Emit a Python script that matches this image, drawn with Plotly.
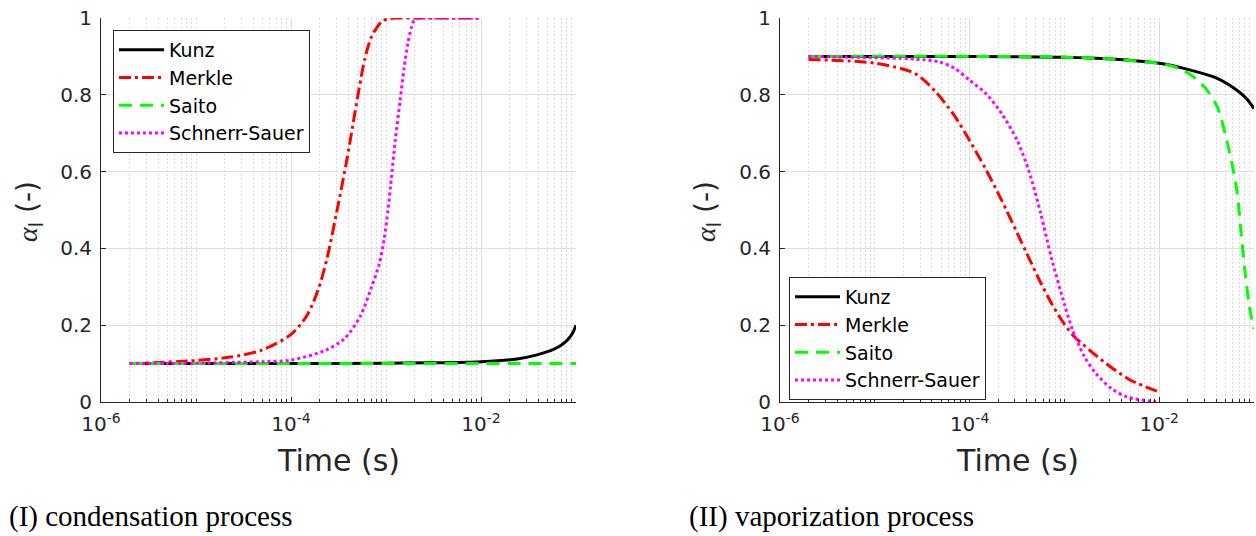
import plotly.graph_objects as go

W, H = 1256, 536

# ---------------- (I) condensation process ----------------
t_kunz_c = [2e-6, 1e-4, 1e-3, 3e-3, 1e-2, 2.4e-2, 3.8e-2, 5e-2, 6.6e-2, 8e-2, 8.7e-2, 9.4e-2, 1e-1]
a_kunz_c = [0.100, 0.100, 0.101, 0.102, 0.105, 0.112, 0.122, 0.131, 0.144, 0.160, 0.170, 0.184, 0.200]

t_merkle_c = [2e-6, 1e-5, 2.3e-5, 4.8e-5, 1e-4, 1.46e-4, 1.93e-4, 2.4e-4, 3e-4, 3.87e-4,
              4.5e-4, 5.2e-4, 6e-4, 7e-4, 8e-4, 9e-4, 1.05e-3, 1.3e-3, 2e-3, 1e-2]
a_merkle_c = [0.100, 0.108, 0.117, 0.134, 0.176, 0.224, 0.292, 0.375, 0.490, 0.630,
              0.725, 0.815, 0.895, 0.950, 0.975, 0.990, 0.998, 1.000, 1.000, 1.000]

t_saito_c = [2e-6, 1e-4, 1e-2, 1e-1]
a_saito_c = [0.100, 0.100, 0.100, 0.100]

t_ss_c = [2e-6, 1e-5, 5e-5, 1e-4, 2.32e-4, 3.69e-4, 5.35e-4, 7.06e-4, 8.5e-4, 9.5e-4,
          1.05e-3, 1.12e-3, 1.25e-3, 1.41e-3, 1.55e-3, 1.7e-3, 1.85e-3, 2e-3, 2.3e-3, 3e-3, 1e-2]
a_ss_c = [0.100, 0.101, 0.105, 0.109, 0.135, 0.166, 0.223, 0.300, 0.360, 0.420,
          0.500, 0.565, 0.680, 0.786, 0.870, 0.934, 0.975, 0.996, 1.000, 1.000, 1.000]

# ---------------- (II) vaporization process ----------------
t_kunz_v = [2e-6, 1e-4, 1e-3, 3.13e-3, 1e-2, 2.09e-2, 4.09e-2, 6.6e-2, 8.5e-2, 1e-1]
a_kunz_v = [0.900, 0.900, 0.898, 0.893, 0.882, 0.865, 0.843, 0.812, 0.788, 0.764]

t_saito_v = [2e-6, 1e-4, 1e-3, 3.13e-3, 1e-2, 1.44e-2, 2.09e-2, 3.08e-2, 4.09e-2, 5.46e-2,
             6.6e-2, 7.25e-2, 8.0e-2, 8.8e-2, 9.4e-2, 1e-1]
a_saito_v = [0.900, 0.900, 0.898, 0.893, 0.882, 0.873, 0.854, 0.817, 0.769, 0.655,
             0.550, 0.450, 0.345, 0.260, 0.220, 0.190]

t_merkle_v = [2e-6, 1.03e-5, 2.67e-5, 4.3e-5, 6.94e-5, 1e-4, 1.49e-4, 2.18e-4, 3.18e-4, 4.04e-4,
              5.64e-4, 7.2e-4, 9.08e-4, 1.21e-3, 1.95e-3, 3.13e-3, 5.05e-3, 1e-2]
a_merkle_v = [0.892, 0.882, 0.855, 0.810, 0.745, 0.681, 0.605, 0.525, 0.440, 0.385,
              0.310, 0.260, 0.218, 0.176, 0.130, 0.090, 0.056, 0.026]

t_ss_v = [2e-6, 2.67e-5, 4.74e-5, 6.94e-5, 1e-4, 1.49e-4, 2.18e-4, 3.18e-4, 4.24e-4, 5.64e-4,
          7.3e-4, 1e-3, 1.21e-3, 1.61e-3, 2.14e-3, 3.13e-3, 4.59e-3, 8.13e-3, 1e-2]
a_ss_v = [0.900, 0.893, 0.886, 0.869, 0.838, 0.803, 0.751, 0.681, 0.600, 0.490,
          0.375, 0.255, 0.190, 0.120, 0.075, 0.035, 0.013, 0.002, 0.000]

model_names = ["Kunz", "Merkle", "Saito", "Schnerr-Sauer"]
model_colors = ["#000000", "#ff0000", "#00ff00", "#ff00ff"]
model_dash = ["solid", "12px,4px,3px,4px", "13px,8px", "3px,3px"]

y_ticks = [0, 0.2, 0.4, 0.6, 0.8, 1]
y_ticktext = ["0", "0.2", "0.4", "0.6", "0.8", "1"]
x_ticks = [1e-6, 1e-4, 1e-2]
x_ticktext = ["10<sup>-6</sup>", "10<sup>-4</sup>", "10<sup>-2</sup>"]
captions = ["(I) condensation process", "(II) vaporization process"]

condensation = [(t_kunz_c, a_kunz_c), (t_merkle_c, a_merkle_c), (t_saito_c, a_saito_c), (t_ss_c, a_ss_c)]
vaporization = [(t_kunz_v, a_kunz_v), (t_merkle_v, a_merkle_v), (t_saito_v, a_saito_v), (t_ss_v, a_ss_v)]

AX = "#262626"
FONT = "DejaVu Sans"

fig = go.Figure()
for series, xa, ya, lg in [(condensation, "x", "y", "legend"),
                           (vaporization, "x2", "y2", "legend2")]:
    for (t, a), name, col, dash in zip(series, model_names, model_colors, model_dash):
        fig.add_trace(go.Scatter(
            x=t, y=a, name=name, mode="lines",
            line=dict(color=col, width=3, dash=dash, shape="spline", smoothing=0.8),
            xaxis=xa, yaxis=ya, legend=lg,
        ))

minor_vals = [k * 10.0 ** e for e in range(-6, -1) for k in range(2, 10)] + [1e-5, 1e-3, 1e-1]


def xaxis_cfg(x0, x1, anchor):
    return dict(
        type="log", range=[-6, -1], domain=[x0 / W, x1 / W], anchor=anchor,
        automargin=False,
        tickmode="array", tickvals=x_ticks, ticktext=x_ticktext,
        showgrid=True, gridcolor="#dedede", gridwidth=1,
        showline=True, linecolor=AX, linewidth=1, zeroline=False,
        ticks="inside", ticklen=5, tickcolor=AX, tickwidth=1,
        tickfont=dict(family=FONT, size=20, color=AX),
        ticklabelstandoff=4,
        minor=dict(tickmode="array", tickvals=minor_vals, ticks="inside", ticklen=3,
                   tickcolor=AX, showgrid=True, gridcolor="#dadada",
                   griddash="2px,2px", gridwidth=1),
    )


def yaxis_cfg(anchor):
    return dict(
        range=[0, 1], domain=[134 / H, 518 / H], anchor=anchor,
        automargin=False,
        tickmode="array", tickvals=y_ticks, ticktext=y_ticktext,
        showgrid=True, gridcolor="#dedede", gridwidth=1,
        showline=True, linecolor=AX, linewidth=1, zeroline=False,
        ticks="inside", ticklen=5, tickcolor=AX, tickwidth=1,
        tickfont=dict(family=FONT, size=20, color=AX),
        ticklabelstandoff=4,
    )


def legend_cfg(x, y):
    return dict(
        x=x / W, y=1 - y / H, xanchor="left", yanchor="top",
        bgcolor="white", bordercolor=AX, borderwidth=1,
        font=dict(family=FONT, size=19, color="#000000"),
        tracegroupgap=0, itemclick=False, itemwidth=45,
    )


annotations = []
for xc_axis, yt_x, cap_x, cap in [(338.5, 30, 7, captions[0]), (1017, 708, 687, captions[1])]:
    annotations.append(dict(
        text="Time (s)", x=xc_axis / W, y=1 - 460 / H, xref="paper", yref="paper",
        xanchor="center", yanchor="middle", showarrow=False,
        font=dict(family=FONT, size=30, color=AX)))
    annotations.append(dict(
        text="<span style='font-family:Liberation Serif'><i>α</i></span><sub>l</sub> (-)",
        x=yt_x / W, y=1 - 212 / H, xref="paper", yref="paper", textangle=-90,
        xanchor="center", yanchor="middle", showarrow=False,
        font=dict(family=FONT, size=28, color=AX)))
    annotations.append(dict(
        text=cap, x=cap_x / W, y=1 - 516.5 / H, xref="paper", yref="paper",
        xanchor="left", yanchor="middle", showarrow=False,
        font=dict(family="Liberation Serif", size=29, color="#000000")))

fig.update_layout(
    width=W, height=H, margin=dict(l=0, r=0, t=0, b=0, autoexpand=False),
    paper_bgcolor="white", plot_bgcolor="white",
    xaxis=xaxis_cfg(101, 576, "y"), yaxis=yaxis_cfg("x"),
    xaxis2=xaxis_cfg(780, 1254, "y2"), yaxis2=yaxis_cfg("x2"),
    legend=legend_cfg(113, 30), legend2=legend_cfg(789, 277),
    annotations=annotations, showlegend=True,
)

fig.write_html("out.html")
